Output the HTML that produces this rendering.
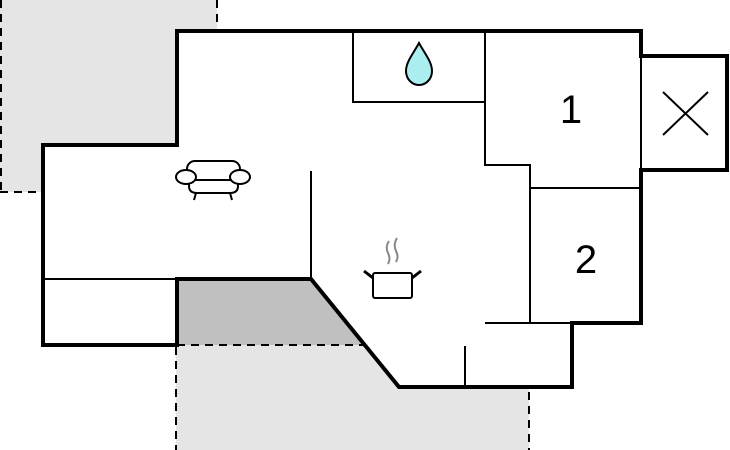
<!DOCTYPE html>
<html><head><style>html,body{margin:0;padding:0;background:#fff;}svg{display:block}</style></head>
<body>
<svg width="730" height="450" viewBox="0 0 730 450" xmlns="http://www.w3.org/2000/svg">
<rect x="0" y="0" width="217" height="192" fill="#e5e5e5"/>
<rect x="176" y="345" width="353" height="105" fill="#e5e5e5"/>
<polygon points="177,31 641,31 641,56 727,56 727,170 641,170 641,323 572,323 572,387 399,387 311,279 177,279 177,345 43,345 43,145 177,145" fill="#fff"/>
<polygon points="177,279 311,279 364,345 177,345" fill="#c0c0c0"/>
<g stroke="#000" stroke-width="2" stroke-dasharray="8,6" fill="none">
<line x1="1" y1="0" x2="1" y2="192"/>
<line x1="0" y1="192" x2="40" y2="192"/>
<line x1="217" y1="0" x2="217" y2="28"/>
<line x1="177" y1="345" x2="364" y2="345"/>
<line x1="176" y1="347" x2="176" y2="450"/>
<line x1="529" y1="392" x2="529" y2="450"/>
</g>
<g stroke="#000" stroke-width="2" fill="none">
<polyline points="353,31 353,102 485,102"/>
<polyline points="485,31 485,165 530,165 530,323"/>
<line x1="530" y1="188" x2="641" y2="188"/>
<line x1="485" y1="323" x2="572" y2="323"/>
<line x1="465" y1="346" x2="465" y2="387"/>
<line x1="311" y1="171" x2="311" y2="279"/>
<line x1="43" y1="279" x2="177" y2="279"/>
<line x1="641" y1="56" x2="641" y2="170"/>
<line x1="663" y1="92" x2="708" y2="135"/>
<line x1="708" y1="92" x2="663" y2="135"/>
</g>
<g fill="none" stroke="#000" stroke-width="4" stroke-linejoin="miter">
<polyline points="639,56 727,56 727,170 639,170"/>
<polyline points="641,168 641,323 572,323 572,387 399,387 311,279 177,279 177,345 43,345 43,145 177,145 177,31 641,31 641,58"/>
</g>
<path d="M419,43 C413,54 406,62 406,71 C406,79 412,85 419,85 C426,85 432,79 432,71 C432,62 425,54 419,43 Z" fill="#aaeef0" stroke="#000" stroke-width="2"/>
<g stroke="#000" stroke-width="2" fill="#fff">
<rect x="187" y="161" width="53" height="24" rx="8"/>
<path d="M189,180 L189,186 Q189,193 197,193 L230,193 Q238,193 238,186 L238,180"/>
<line x1="187" y1="180" x2="240" y2="180"/>
<ellipse cx="186" cy="177" rx="10" ry="7"/>
<ellipse cx="240" cy="177" rx="10" ry="7"/>
<line x1="196" y1="193" x2="194" y2="200"/>
<line x1="230" y1="193" x2="232" y2="200"/>
</g>
<g stroke="#000" fill="#fff">
<rect x="373" y="273" width="39" height="25" rx="2" stroke-width="2"/>
<line x1="373" y1="278" x2="364" y2="271" stroke-width="3"/>
<line x1="412" y1="278" x2="421" y2="271" stroke-width="3"/>
</g>
<g stroke="#888" stroke-width="2" fill="none">
<path d="M389,241 Q385,247 388,253 Q391,259 388,264"/>
<path d="M397,238 Q393,245 396,251 Q399,257 396,262"/>
</g>
<text x="571" y="123" font-family="Liberation Sans, sans-serif" font-size="40" text-anchor="middle">1</text>
<text x="586" y="273" font-family="Liberation Sans, sans-serif" font-size="40" text-anchor="middle">2</text>
</svg>
</body></html>
